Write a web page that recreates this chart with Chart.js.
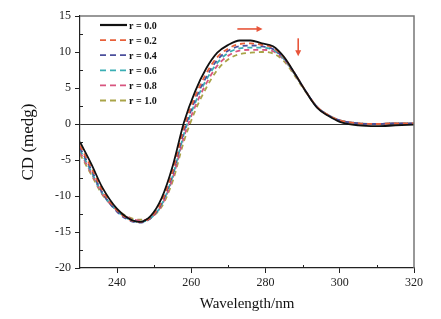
<!DOCTYPE html>
<html>
<head>
<meta charset="utf-8">
<script src="https://cdn.jsdelivr.net/npm/chart.js@4/dist/chart.umd.min.js"></script>
<style>
    html, body { margin: 0; padding: 0; background: #fff; }
    #wrap { width: 441px; height: 319px; }
</style>
</head>
<body>
<div id="wrap"><canvas id="cdChart" width="441" height="319"></canvas></div>
<script>
// wavelength (nm)
const wavelength = [230, 233, 236, 240, 243, 246, 249, 252, 255, 258, 261, 264, 267, 270,
    273, 276, 279, 282, 285, 288, 291, 294, 297, 300, 305, 310, 315, 320];

const seriesLabels = ["r = 0.0", "r = 0.2", "r = 0.4", "r = 0.6", "r = 0.8", "r = 1.0"];
const seriesColors = ["#111111", "#e8603a", "#4b4f9c", "#3aaeb4", "#d8557f", "#a9a448"];

const cdR00 = [-2.5, -5.5, -8.8, -11.8, -13.1, -13.6, -12.8, -10.3, -5.8, 0.2, 4.5, 7.7, 9.9, 11.0,
    11.6, 11.6, 11.2, 10.8, 9.3, 6.9, 4.4, 2.2, 1.1, 0.3, -0.2, -0.3, -0.2, -0.1];
const cdR02 = [-3.0, -6.0, -9.2, -12.0, -13.2, -13.6, -13.0, -10.8, -6.5, -0.5, 3.8, 7.0, 9.3, 10.5,
    11.1, 11.2, 11.0, 10.6, 9.2, 6.9, 4.4, 2.3, 1.2, 0.5, 0.1, 0.0, 0.1, 0.1];
const cdR04 = [-3.3, -6.3, -9.5, -12.2, -13.3, -13.7, -13.1, -11.0, -6.9, -1.0, 3.3, 6.5, 8.9, 10.2,
    10.8, 10.9, 10.8, 10.4, 9.1, 6.9, 4.4, 2.3, 1.2, 0.5, 0.1, 0.0, 0.1, 0.1];
const cdR06 = [-3.6, -6.6, -9.6, -12.1, -13.2, -13.6, -13.1, -11.2, -7.2, -1.4, 2.9, 6.1, 8.5, 9.9,
    10.5, 10.6, 10.6, 10.3, 9.0, 6.8, 4.4, 2.3, 1.2, 0.5, 0.1, 0.0, 0.1, 0.1];
const cdR08 = [-3.9, -6.8, -9.7, -12.0, -13.0, -13.4, -13.0, -11.3, -7.5, -1.8, 2.4, 5.6, 8.1, 9.5,
    10.2, 10.3, 10.3, 10.1, 8.9, 6.8, 4.4, 2.3, 1.2, 0.5, 0.1, 0.0, 0.1, 0.1];
const cdR10 = [-4.2, -7.0, -9.8, -11.9, -12.9, -13.3, -13.0, -11.5, -7.9, -2.4, 1.8, 5.0, 7.5, 9.0,
    9.7, 9.9, 10.0, 9.8, 8.7, 6.6, 4.3, 2.3, 1.2, 0.5, 0.1, 0.0, 0.1, 0.1];

const allSeries = [cdR00, cdR02, cdR04, cdR06, cdR08, cdR10];

// arrows in data coords: [x1, y1, x2, y2]
const arrowShift = [272.4, 13.2, 279.2, 13.2];
const arrowDown = [288.8, 11.9, 288.8, 9.4];

const serif = "'Liberation Serif', 'DejaVu Serif', serif";

const datasets = allSeries.map((vals, i) => ({
    label: seriesLabels[i],
    data: wavelength.map((w, j) => ({ x: w, y: vals[j] })),
    borderColor: seriesColors[i],
    borderWidth: 1.8,
    borderDash: i === 0 ? [] : [5, 4],
    pointRadius: 0,
    fill: false,
    cubicInterpolationMode: 'monotone'
}));

const extrasPlugin = {
    id: 'extras',
    afterDatasetsDraw(chart) {
        const ctx = chart.ctx;
        const a = chart.chartArea;
        const xs = chart.scales.x;
        const ys = chart.scales.y;
        ctx.save();

        // top and right frame
        ctx.strokeStyle = '#777';
        ctx.lineWidth = 1.5;
        ctx.beginPath();
        ctx.moveTo(a.left, a.top);
        ctx.lineTo(a.right, a.top);
        ctx.lineTo(a.right, a.bottom);
        ctx.stroke();

        // minor ticks (inward)
        ctx.strokeStyle = '#222';
        ctx.lineWidth = 1;
        ctx.beginPath();
        for (let v = 250; v < 320; v += 20) {
            const px = Math.round(xs.getPixelForValue(v)) + 0.5;
            ctx.moveTo(px, a.bottom);
            ctx.lineTo(px, a.bottom - 3);
        }
        for (let v = -17.5; v < 15; v += 5) {
            const py = Math.round(ys.getPixelForValue(v)) + 0.5;
            ctx.moveTo(a.left, py);
            ctx.lineTo(a.left + 3, py);
        }
        ctx.stroke();

        // legend inside plot
        ctx.font = "bold 10px " + serif;
        ctx.textBaseline = 'middle';
        ctx.textAlign = 'left';
        chart.data.datasets.forEach((ds, i) => {
            const y = 25 + i * 15.1;
            ctx.strokeStyle = ds.borderColor;
            ctx.lineWidth = i === 0 ? 2.2 : 1.8;
            ctx.setLineDash(i === 0 ? [] : [6, 4]);
            ctx.beginPath();
            ctx.moveTo(100, y);
            ctx.lineTo(127, y);
            ctx.stroke();
            ctx.setLineDash([]);
            ctx.fillStyle = '#111';
            ctx.fillText(ds.label, 129, y + 1);
        });

        // arrows
        const drawArrow = (c) => {
            const x1 = xs.getPixelForValue(c[0]), y1 = ys.getPixelForValue(c[1]);
            const x2 = xs.getPixelForValue(c[2]), y2 = ys.getPixelForValue(c[3]);
            const ang = Math.atan2(y2 - y1, x2 - x1);
            ctx.strokeStyle = '#e8553a';
            ctx.fillStyle = '#e8553a';
            ctx.lineWidth = 1.6;
            ctx.beginPath();
            ctx.moveTo(x1, y1);
            ctx.lineTo(x2 - 4 * Math.cos(ang), y2 - 4 * Math.sin(ang));
            ctx.stroke();
            ctx.beginPath();
            ctx.moveTo(x2, y2);
            ctx.lineTo(x2 - 6 * Math.cos(ang) + 3 * Math.sin(ang), y2 - 6 * Math.sin(ang) - 3 * Math.cos(ang));
            ctx.lineTo(x2 - 6 * Math.cos(ang) - 3 * Math.sin(ang), y2 - 6 * Math.sin(ang) + 3 * Math.cos(ang));
            ctx.closePath();
            ctx.fill();
        };
        drawArrow(arrowShift);
        drawArrow(arrowDown);

        ctx.restore();
    }
};

new Chart(document.getElementById("cdChart"), {
    type: 'line',
    data: { datasets: datasets },
    plugins: [extrasPlugin],
    options: {
        responsive: false,
        animation: false,
        layout: { padding: { top: 16, right: 27, left: 0, bottom: 0 } },
        plugins: {
            legend: { display: false },
            tooltip: { enabled: false }
        },
        scales: {
            x: {
                type: 'linear',
                min: 230,
                max: 320,
                afterFit: (s) => { s.height = 51; },
                border: { color: '#222', width: 1.2 },
                grid: {
                    drawOnChartArea: false,
                    tickLength: 5,
                    tickColor: (c) => (c.tick.value % 20 === 0 ? '#222' : 'rgba(0,0,0,0)')
                },
                ticks: {
                    stepSize: 10,
                    padding: 3,
                    maxRotation: 0,
                    color: '#222',
                    font: { family: serif, size: 12 },
                    callback: (v) => (v % 20 === 0 ? v : '')
                },
                title: {
                    display: true,
                    text: 'Wavelength/nm',
                    color: '#111',
                    font: { family: serif, size: 15 },
                    padding: { top: 0, bottom: 6 }
                }
            },
            y: {
                min: -20,
                max: 15,
                afterFit: (s) => { s.width = 80; },
                border: { color: '#222', width: 1.2 },
                grid: {
                    color: (c) => (c.tick.value === 0 ? '#333' : 'rgba(0,0,0,0)'),
                    lineWidth: 1,
                    tickLength: 5,
                    tickColor: '#222'
                },
                ticks: {
                    stepSize: 5,
                    padding: 4,
                    color: '#222',
                    font: { family: serif, size: 12 }
                },
                title: {
                    display: true,
                    text: 'CD (medg)',
                    color: '#111',
                    font: { family: serif, size: 17 },
                    padding: { top: 18, bottom: 0 }
                }
            }
        }
    }
});
</script>
</body>
</html>
